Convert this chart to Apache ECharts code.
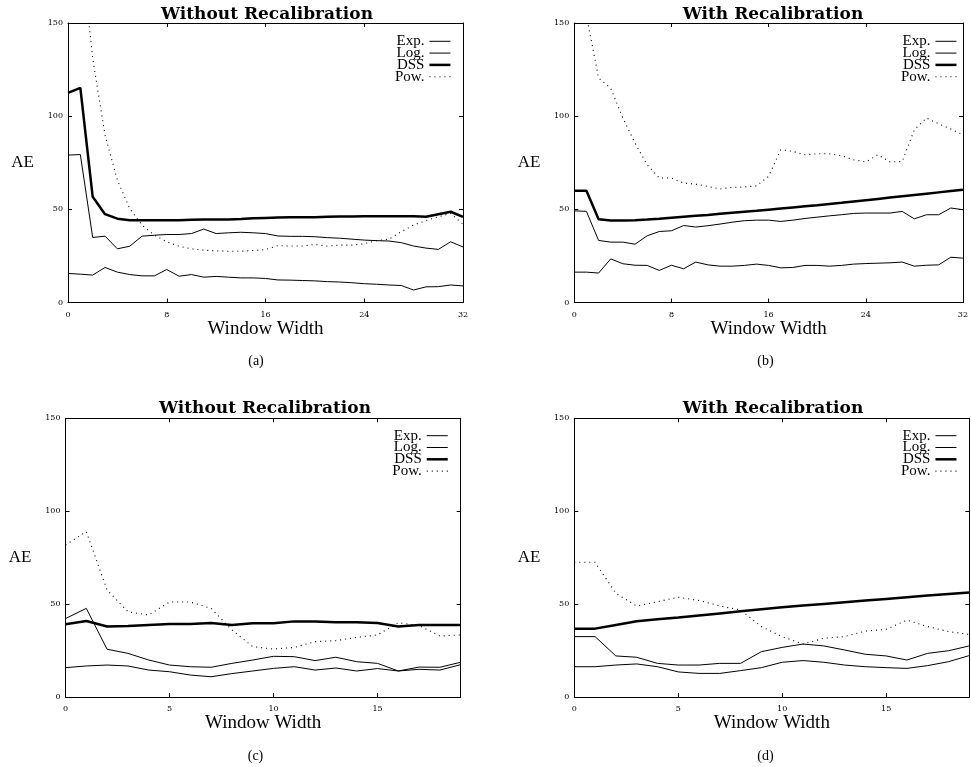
<!DOCTYPE html>
<html>
<head>
<meta charset="utf-8">
<script src="https://cdn.jsdelivr.net/npm/echarts@6/dist/echarts.min.js"></script>
<style>
html,body{margin:0;padding:0;background:#fff}
#c{width:971px;height:767px}
</style>
</head>
<body>
<div id="c"></div>
<script>
// ---- data ----
const widthsWide = [0,1,2,3,4,5,6,7,8,9,10,11,12,13,14,15,16,17,18,19,20,21,22,23,24,25,26,27,28,29,30,31,32];
const widthsNarrow = [0,1,2,3,4,5,6,7,8,9,10,11,12,13,14,15,16,17,18,19];
const seriesNames = ['Exp.', 'Log.', 'DSS', 'Pow.'];
const panelTitles = ['Without Recalibration', 'With Recalibration', 'Without Recalibration', 'With Recalibration'];
const panelTags = ['(a)', '(b)', '(c)', '(d)'];
const xAxisTitle = 'Window Width';
const yAxisTitle = 'AE';

// (a) Without Recalibration, width 0..32
const expA = [15.6,15.2,14.7,18.8,16.3,15.0,14.3,14.3,17.7,14.1,15.0,13.6,14.0,13.6,13.2,13.2,12.9,12.1,12.0,11.8,11.6,11.2,11.0,10.6,10.1,9.8,9.4,9.1,6.7,8.4,8.5,9.4,8.9];
const logA = [79.1,79.4,34.9,35.6,28.8,30.2,35.6,36.1,36.5,36.5,37.0,39.4,37.0,37.4,37.7,37.4,37.0,35.7,35.5,35.5,35.3,34.8,34.5,34.0,33.5,33.2,33.0,32.1,30.3,29.2,28.5,32.6,29.8];
const dssA = [112.5,115.2,56.7,47.4,45.0,44.2,44.2,44.2,44.2,44.2,44.4,44.6,44.6,44.6,44.8,45.2,45.4,45.6,45.8,45.8,45.8,46.0,46.2,46.2,46.3,46.3,46.3,46.3,46.3,46.0,47.4,48.7,46.0];
const powA = [290,193,131,89.8,65.7,50.4,41.5,36.1,32.6,30.2,28.8,28.1,27.7,27.5,27.5,27.9,28.4,30.5,30.3,30.3,31.2,30.3,30.8,30.8,31.5,33.2,34.0,38.0,41.6,43.9,46.0,47.8,42.0];

// (b) With Recalibration, width 0..32
const expB = [16.3,16.3,15.8,23.4,20.8,20.0,19.9,17.2,20.0,18.1,21.7,20.2,19.5,19.5,19.9,20.6,19.9,18.6,18.8,19.9,19.9,19.5,19.9,20.6,20.9,21.1,21.3,21.7,19.5,20.0,20.2,24.3,23.8];
const logB = [49.2,48.9,33.3,32.4,32.4,31.3,35.8,38.1,38.5,41.3,40.5,41.2,42.1,43.1,43.9,44.2,44.2,43.5,44.2,45.1,45.8,46.5,47.1,47.8,48.0,48.0,48.0,48.9,44.9,47.1,47.1,50.7,49.8];
const dssB = [60.0,60.0,44.7,44.0,44.0,44.2,44.5,44.9,45.5,46.0,46.5,47.0,47.6,48.2,48.7,49.2,49.8,50.4,51.0,51.6,52.2,52.9,53.5,54.2,54.9,55.6,56.3,57.0,57.7,58.4,59.1,59.8,60.5];
const powB = [180,154,120.5,115.0,99.0,85.6,73.9,66.8,66.8,64.1,63.5,62.3,60.9,61.8,62.0,62.6,67.7,82.0,81.1,79.3,79.8,79.8,78.8,76.6,75.4,79.3,75.4,75.7,92.7,99.0,95.9,93.1,90.0];

// (c) Without Recalibration, width 0..19
const expC = [15.8,16.7,17.2,16.7,14.5,13.6,11.8,10.9,12.6,14.0,15.4,16.3,14.5,15.6,14.0,15.3,14.0,14.9,14.5,17.4];
const logC = [42.2,47.7,25.7,23.5,19.9,17.2,16.3,16.0,18.1,19.9,21.9,21.7,19.6,21.4,19.0,18.1,14.0,16.1,16.0,18.7];
const dssC = [39.1,40.9,37.9,38.2,38.8,39.3,39.3,39.8,38.8,39.7,39.7,40.7,40.7,40.2,40.2,39.8,38.0,38.8,38.8,38.8];
const powC = [81.8,89.0,57.6,45.9,44.1,51.1,51.1,47.7,36.1,27.1,25.8,26.7,29.8,30.3,32.1,33.4,40.0,38.4,32.8,33.4];

// (d) With Recalibration, width 0..19
const expD = [16.3,16.3,17.2,17.8,16.3,13.5,12.7,12.7,14.2,15.8,18.7,19.6,18.7,17.2,16.3,15.8,15.4,16.9,19.0,22.3];
const logD = [32.5,32.5,22.1,21.4,18.1,17.2,17.2,18.1,18.1,24.4,26.7,28.5,27.5,25.3,23.0,22.1,19.9,23.5,24.9,27.5];
const dssD = [36.8,36.8,38.8,40.8,41.8,42.8,43.9,45.0,46.1,47.2,48.3,49.2,50.1,51.0,51.9,52.8,53.7,54.6,55.5,56.3];
const powD = [72.5,72.5,55.8,49.0,51.3,53.7,51.9,49.0,46.8,37.9,32.5,28.5,31.6,32.5,35.5,36.4,41.4,37.9,35.2,33.7];

// ---- layout ----
const panels = [
  {widths: widthsWide,   values: [expA, logA, dssA, powA], xMax: 32, xStep: 8,
   grid: {left: 68, top: 23, width: 395, height: 279.5}, legendRight: 519.3, legendTop: 33.8,
   titleX: 267, titleY: 6, tagX: 256, tagY: 354},
  {widths: widthsWide,   values: [expB, logB, dssB, powB], xMax: 32, xStep: 8,
   grid: {left: 574.3, top: 23, width: 395, height: 279.5}, legendRight: 13.3, legendTop: 33.8,
   titleX: 773, titleY: 6, tagX: 765.5, tagY: 354},
  {widths: widthsNarrow, values: [expC, logC, dssC, powC], xMax: 19, xStep: 5,
   grid: {left: 65.5, top: 418.3, width: 395.2, height: 278.7}, legendRight: 522, legendTop: 428.2,
   titleX: 265, titleY: 400.5, tagX: 255.5, tagY: 749},
  {widths: widthsNarrow, values: [expD, logD, dssD, powD], xMax: 19, xStep: 5,
   grid: {left: 574.3, top: 418.3, width: 395, height: 278.7}, legendRight: 13.3, legendTop: 428.2,
   titleX: 773, titleY: 400.5, tagX: 765.5, tagY: 749}
];

const lineStyles = [
  {color: '#000', width: 1, type: 'solid'},
  {color: '#000', width: 1, type: 'solid'},
  {color: '#000', width: 2.5, type: 'solid'},
  {color: '#000', width: 1.1, type: [1, 4]}
];

const serif = 'Liberation Serif, Times New Roman, serif';
const tickFont = {fontFamily: 'DejaVu Serif, serif', fontSize: 8, color: '#000'};

const option = {
  animation: false,
  backgroundColor: '#fff',
  title: [], legend: [], grid: [], xAxis: [], yAxis: [], series: []
};

const axisLine = {show: true, onZero: false, lineStyle: {color: '#000', width: 1}};
const axisTick = {show: true, inside: true, length: 4, lineStyle: {color: '#000', width: 1}};

panels.forEach((p, k) => {
  option.grid.push(Object.assign({show: false, containLabel: false}, p.grid));

  option.title.push({
    text: panelTitles[k], left: p.titleX, top: p.titleY, textAlign: 'center', padding: 0,
    textStyle: {fontFamily: 'DejaVu Serif, serif', fontWeight: 'bold', fontSize: 17, color: '#000'}
  });
  option.title.push({
    text: panelTags[k], left: p.tagX, top: p.tagY, textAlign: 'center', padding: 0,
    textStyle: {fontFamily: serif, fontWeight: 'normal', fontSize: 14, color: '#000'}
  });

  option.legend.push({
    orient: 'vertical', align: 'right', right: p.legendRight, top: p.legendTop, padding: 0,
    itemGap: -3.2, itemWidth: 21, itemHeight: 8,
    textStyle: {fontFamily: serif, fontSize: 15, color: '#000', lineHeight: 15},
    data: seriesNames.map((n, i) => ({
      name: n,
      lineStyle: {width: lineStyles[i].width, type: lineStyles[i].type, color: '#000'},
      itemStyle: {opacity: 0, color: 'rgba(0,0,0,0)', borderWidth: 0}
    })),
    selectedMode: false
  });

  // bottom x axis
  option.xAxis.push({
    type: 'value', gridIndex: k, position: 'bottom', min: 0, max: p.xMax, interval: p.xStep,
    axisLine, axisTick, splitLine: {show: false},
    axisLabel: Object.assign({margin: 8, showMaxLabel: p.xMax % p.xStep === 0}, tickFont),
    name: xAxisTitle, nameLocation: 'middle', nameGap: 14,
    nameTextStyle: {fontFamily: serif, fontSize: 19, color: '#000'}
  });
  // top x axis (frame)
  option.xAxis.push({
    type: 'value', gridIndex: k, position: 'top', min: 0, max: p.xMax, interval: p.xStep,
    axisLine, axisTick, splitLine: {show: false}, axisLabel: {show: false}
  });
  // left y axis
  option.yAxis.push({
    type: 'value', gridIndex: k, position: 'left', min: 0, max: 150, interval: 50,
    axisLine, axisTick, splitLine: {show: false},
    axisLabel: Object.assign({margin: 5}, tickFont),
    name: yAxisTitle, nameLocation: 'middle', nameRotate: 0, nameGap: 34,
    nameTextStyle: {fontFamily: serif, fontSize: 17, color: '#000', padding: [7, 0, 0, 0]}
  });
  // right y axis (frame)
  option.yAxis.push({
    type: 'value', gridIndex: k, position: 'right', min: 0, max: 150, interval: 50,
    axisLine, axisTick, splitLine: {show: false}, axisLabel: {show: false}
  });

  p.values.forEach((vals, i) => {
    option.series.push({
      type: 'line', name: seriesNames[i], xAxisIndex: 2 * k, yAxisIndex: 2 * k,
      data: p.widths.map((w, j) => [w, vals[j]]),
      symbol: 'none', silent: true, clip: true,
      lineStyle: lineStyles[i], itemStyle: {color: '#000'}
    });
  });
});

const chart = echarts.init(document.getElementById('c'), null, {renderer: 'canvas'});
chart.setOption(option);
</script>
</body>
</html>
